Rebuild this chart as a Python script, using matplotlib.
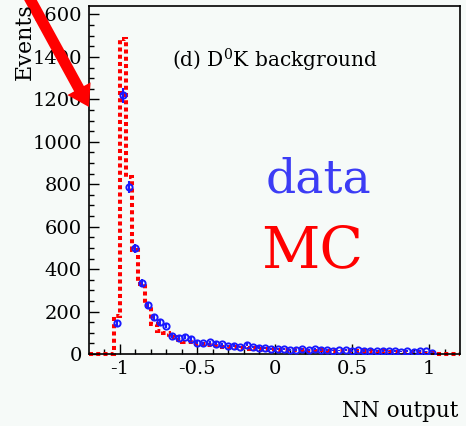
import numpy as np
import matplotlib.pyplot as plt

plt.rcParams['font.family'] = 'DejaVu Serif'
plt.rcParams['mathtext.fontset'] = 'dejavuserif'
plt.rcParams['axes.unicode_minus'] = False

# histogram binning: 60 bins of 0.04 from -1.2 to 1.2
edges = np.round(np.arange(-1.2, 1.2001, 0.04), 2)
centers = (edges[:-1] + edges[1:]) / 2

# MC (red dashed histogram), one value per bin
mc = [0, 0, 0, 0, 180, 1485, 835, 490, 330, 225,
      140, 110, 100, 78, 65, 55, 58, 48, 45, 42,
      40, 35, 32, 35, 28, 25, 27, 22, 20, 22,
      20, 18, 20, 17, 18, 16, 15, 17, 15, 14,
      15, 13, 14, 12, 13, 12, 11, 12, 10, 11,
      9, 10, 8, 9, 7, 4, 0, 0, 0, 0]

# data points, bins -1.02 .. 1.02
data_first_bin = 4
data = [145, 1220, 785, 498, 336, 232, 175, 150, 133, 86,
        74, 80, 70, 53, 50, 55, 49, 46, 38, 40,
        32, 44, 34, 30, 28, 24, 22, 25, 20, 18,
        22, 19, 24, 18, 20, 16, 17, 18, 15, 17,
        14, 16, 13, 15, 12, 14, 11, 13, 10, 14,
        12, 6]

xticks = [-1, -0.5, 0, 0.5, 1]
xticklabels = ['-1', '-0.5', '0', '0.5', '1']

bg = '#f6faf8'
fig = plt.figure(figsize=(4.66, 4.26), dpi=100, facecolor=bg)
ax = fig.add_axes([89/466, 72/426, 371/466, 348/426], facecolor=bg)

ax.stairs(mc, edges, color='#ff0000', lw=2.9, ls=(0, (1, 0.8)), baseline=None,
          clip_on=False, zorder=2)

dx = centers[data_first_bin:data_first_bin + len(data)]
dy = np.array(data, dtype=float)
ax.errorbar(dx, dy, yerr=np.sqrt(dy), fmt='o', ms=4.5, mfc='none', mec='#1a1aff',
            mew=1.4, ecolor='#1a1aff', elinewidth=1.5, capsize=0, zorder=3)

ax.set_xlim(-1.2, 1.2)
ax.set_ylim(0, 1640)
ax.set_xticks(xticks)
ax.set_xticklabels(xticklabels)
ax.set_xticks(np.arange(-1.1, 1.2, 0.1), minor=True)
ax.set_yticks(np.arange(0, 1601, 200))
ax.set_yticks(np.arange(0, 1640, 50), minor=True)
ax.tick_params(which='both', direction='in', top=False, right=False,
               labelsize=14, width=1.0, colors='black')
ax.tick_params(which='major', length=7.5)
ax.tick_params(which='minor', length=3.8)
ax.tick_params(axis='y', pad=5)
ax.tick_params(axis='x', pad=4)
for s in ax.spines.values():
    s.set_linewidth(1.2)

fig.text(172/466, 1 - 67/426, r'(d) D$^{0}$K background', fontsize=14.5,
         ha='left', va='baseline')
fig.text(318/466, 1 - 192/426, 'data', fontsize=34, color='#3c3cf5',
         ha='center', va='baseline')
fig.text(312/466, 1 - 267/426, 'MC', fontsize=41, color='#ff0000',
         ha='center', va='baseline')

fig.text(458/466, 9/426, 'NN output', fontsize=15.5, ha='right', va='baseline')
fig.text(25/466, 1 - 80/426, 'Events', fontsize=16, rotation=90,
         ha='center', va='bottom')

# red arrow pointing at the y axis
ax.annotate('', xy=(89, 426 - 107), xycoords='figure pixels',
            xytext=(19, 426 + 21), textcoords='figure pixels',
            arrowprops=dict(arrowstyle='simple,head_length=1.5,head_width=1.9,tail_width=0.8',
                            mutation_scale=10, fc='#ff0000', ec='none', lw=0,
                            shrinkA=0, shrinkB=0),
            zorder=10, annotation_clip=False)

fig.savefig('out.png', dpi=100, facecolor=bg)
